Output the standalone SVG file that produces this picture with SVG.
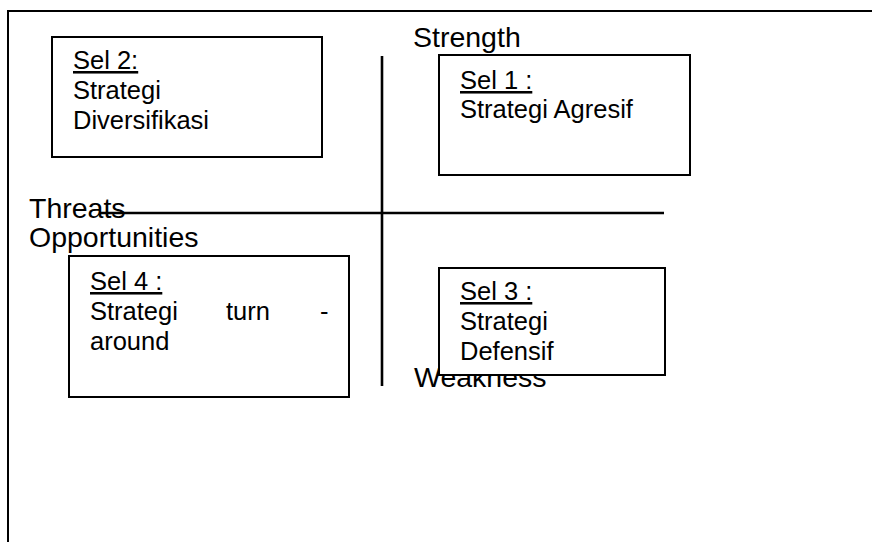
<svg xmlns="http://www.w3.org/2000/svg" width="872" height="542" viewBox="0 0 872 542">
<style>
text{font-family:"Liberation Sans",Arial,sans-serif;fill:#000}
.lbl{font-size:28.5px}
.bt{font-size:25.5px}
.u{text-decoration:underline}
.box{fill:#fff;stroke:#000;stroke-width:2}
.ax{stroke:#000;stroke-width:2.6;fill:none}
</style>
<rect width="872" height="542" fill="#fff"/>
<path d="M8,542 V11 H872" fill="none" stroke="#000" stroke-width="2"/>
<g id="label-strength"><text class="lbl" x="413" y="47">Strength</text></g>
<g id="label-threats"><text class="lbl" x="29" y="218">Threats</text></g>
<g id="label-weakness"><text class="lbl" x="414" y="387">Weakness</text></g>
<g id="connectors">
<line class="ax" x1="382" y1="56" x2="382" y2="386"/>
<line class="ax" x1="100" y1="213" x2="664" y2="213"/>
</g>
<g id="sel2">
<rect class="box" x="52" y="37" width="270" height="120"/>
<text class="bt u" x="73" y="69">Sel 2:</text>
<text class="bt" x="73" y="99">Strategi</text>
<text class="bt" x="73" y="129">Diversifikasi</text>
</g>
<g id="sel1">
<rect class="box" x="439" y="55" width="251" height="120"/>
<text class="bt u" x="460" y="89">Sel 1 :</text>
<text class="bt" x="460" y="118">Strategi Agresif</text>
</g>
<g id="sel4">
<rect class="box" x="69" y="256" width="280" height="141"/>
<text class="bt u" x="90" y="290">Sel 4 :</text>
<text class="bt" x="90" y="320">Strategi</text>
<text class="bt" x="226" y="320">turn</text>
<text class="bt" x="320" y="320">-</text>
<text class="bt" x="90" y="350">around</text>
</g>
<g id="sel3">
<rect class="box" x="439" y="268" width="226" height="107"/>
<text class="bt u" x="460" y="300">Sel 3 :</text>
<text class="bt" x="460" y="330">Strategi</text>
<text class="bt" x="460" y="360">Defensif</text>
</g>
<g id="label-opportunities"><text class="lbl" x="29" y="247">Opportunities</text></g>
</svg>
